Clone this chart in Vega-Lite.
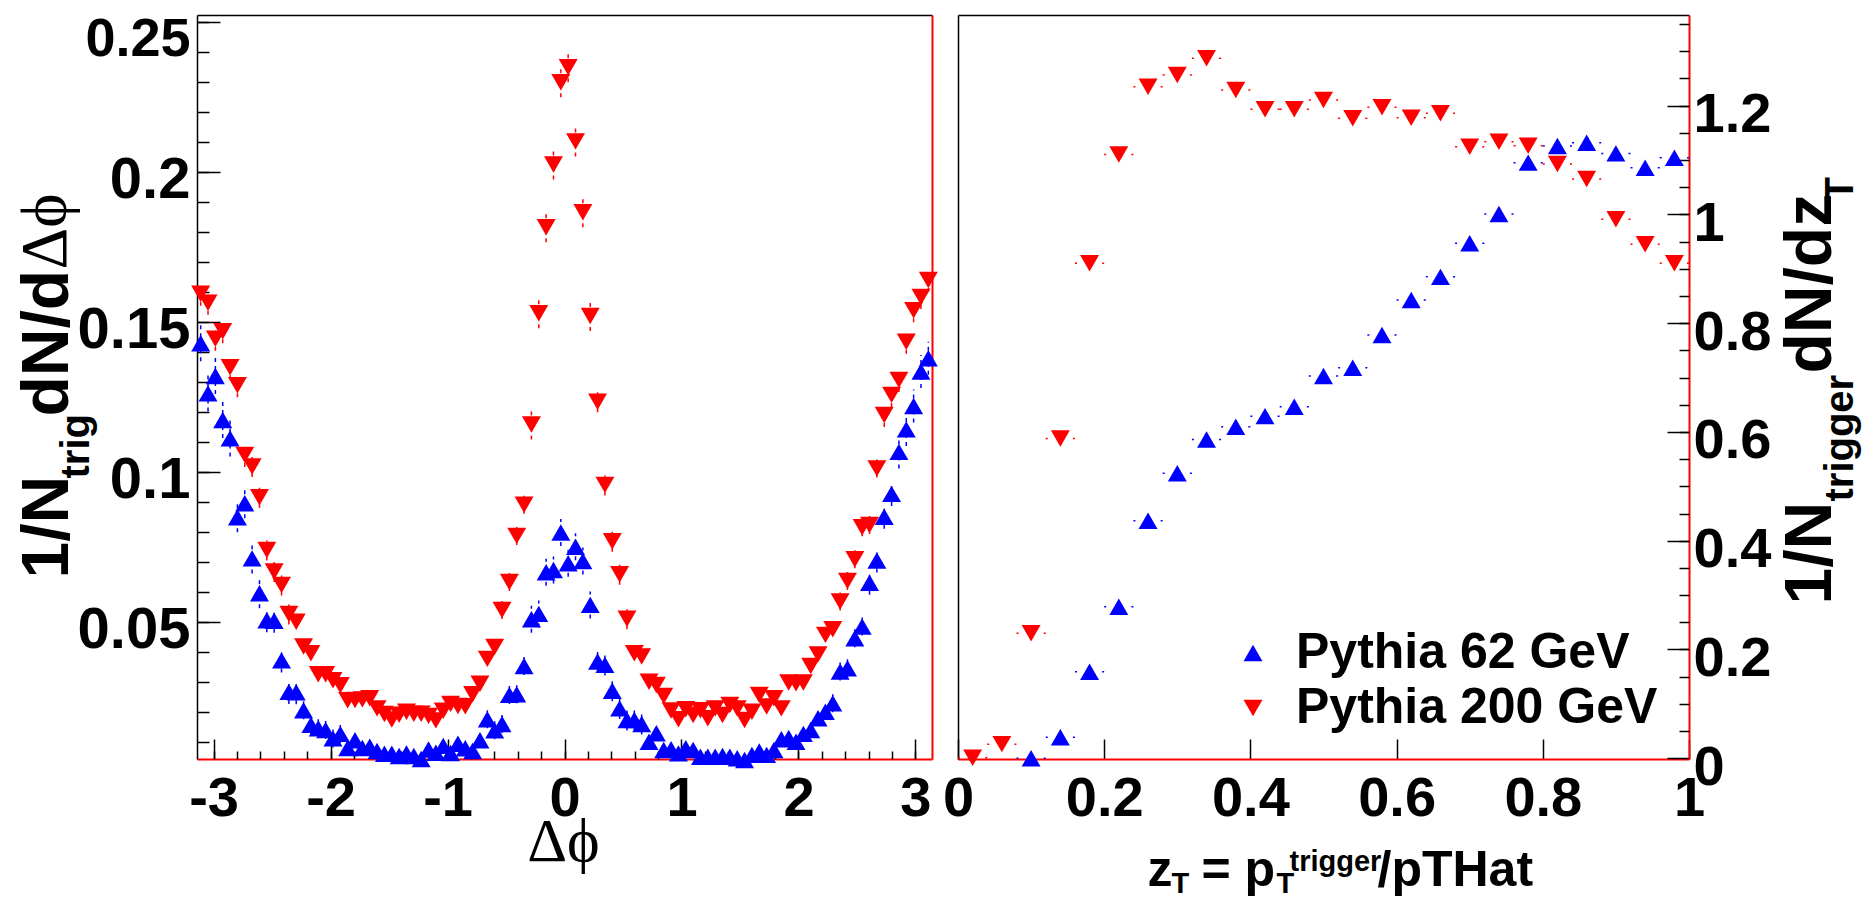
{
"$schema": "https://vega.github.io/schema/vega-lite/v6.json",
"width": 1492,
"height": 744,
"autosize": {"type": "none"},
"padding": {"left": 197, "top": 15, "right": 182, "bottom": 141},
"background": "white",
"config": {
  "view": {"stroke": null},
  "axis": {"grid": false, "labelFont": "Liberation Sans", "labelFontWeight": "bold", "labelColor": "#000", "titleFont": "Liberation Sans", "titleFontWeight": "bold", "titleColor": "#000", "tickColor": "#000", "tickWidth": 1.5, "domainColor": "#000", "domainWidth": 1.5, "titlePadding": 0, "labelOverlap": false, "labelFlush": false}
},
"datasets": {
"left": [
{"phi":-3.1102,"v":0.143,"e":0.006,"series":"Pythia 62 GeV"},
{"phi":-3.0473,"v":0.1263,"e":0.006,"series":"Pythia 62 GeV"},
{"phi":-2.9845,"v":0.1321,"e":0.006,"series":"Pythia 62 GeV"},
{"phi":-2.9217,"v":0.1174,"e":0.006,"series":"Pythia 62 GeV"},
{"phi":-2.8588,"v":0.1113,"e":0.006,"series":"Pythia 62 GeV"},
{"phi":-2.796,"v":0.085,"e":0.005,"series":"Pythia 62 GeV"},
{"phi":-2.7332,"v":0.0897,"e":0.005,"series":"Pythia 62 GeV"},
{"phi":-2.6704,"v":0.0713,"e":0.005,"series":"Pythia 62 GeV"},
{"phi":-2.6075,"v":0.0597,"e":0.005,"series":"Pythia 62 GeV"},
{"phi":-2.5447,"v":0.0507,"e":0.004,"series":"Pythia 62 GeV"},
{"phi":-2.4819,"v":0.0505,"e":0.004,"series":"Pythia 62 GeV"},
{"phi":-2.419,"v":0.0373,"e":0.004,"series":"Pythia 62 GeV"},
{"phi":-2.3562,"v":0.0268,"e":0.004,"series":"Pythia 62 GeV"},
{"phi":-2.2934,"v":0.0267,"e":0.004,"series":"Pythia 62 GeV"},
{"phi":-2.2305,"v":0.0207,"e":0.003,"series":"Pythia 62 GeV"},
{"phi":-2.1677,"v":0.0158,"e":0.003,"series":"Pythia 62 GeV"},
{"phi":-2.1049,"v":0.0147,"e":0.003,"series":"Pythia 62 GeV"},
{"phi":-2.042,"v":0.0141,"e":0.003,"series":"Pythia 62 GeV"},
{"phi":-1.9792,"v":0.0113,"e":0.003,"series":"Pythia 62 GeV"},
{"phi":-1.9164,"v":0.0128,"e":0.003,"series":"Pythia 62 GeV"},
{"phi":-1.8535,"v":0.0081,"e":0.002,"series":"Pythia 62 GeV"},
{"phi":-1.7907,"v":0.0107,"e":0.002,"series":"Pythia 62 GeV"},
{"phi":-1.7279,"v":0.0081,"e":0.002,"series":"Pythia 62 GeV"},
{"phi":-1.665,"v":0.0085,"e":0.002,"series":"Pythia 62 GeV"},
{"phi":-1.6022,"v":0.0071,"e":0.002,"series":"Pythia 62 GeV"},
{"phi":-1.5394,"v":0.0062,"e":0.002,"series":"Pythia 62 GeV"},
{"phi":-1.4765,"v":0.0062,"e":0.002,"series":"Pythia 62 GeV"},
{"phi":-1.4137,"v":0.0054,"e":0.002,"series":"Pythia 62 GeV"},
{"phi":-1.3509,"v":0.0063,"e":0.002,"series":"Pythia 62 GeV"},
{"phi":-1.2881,"v":0.0054,"e":0.002,"series":"Pythia 62 GeV"},
{"phi":-1.2252,"v":0.0044,"e":0.002,"series":"Pythia 62 GeV"},
{"phi":-1.1624,"v":0.0076,"e":0.002,"series":"Pythia 62 GeV"},
{"phi":-1.0996,"v":0.0065,"e":0.002,"series":"Pythia 62 GeV"},
{"phi":-1.0367,"v":0.0088,"e":0.002,"series":"Pythia 62 GeV"},
{"phi":-0.9739,"v":0.0064,"e":0.002,"series":"Pythia 62 GeV"},
{"phi":-0.9111,"v":0.0095,"e":0.002,"series":"Pythia 62 GeV"},
{"phi":-0.8482,"v":0.008,"e":0.002,"series":"Pythia 62 GeV"},
{"phi":-0.7854,"v":0.0071,"e":0.002,"series":"Pythia 62 GeV"},
{"phi":-0.7226,"v":0.0107,"e":0.002,"series":"Pythia 62 GeV"},
{"phi":-0.6597,"v":0.0177,"e":0.003,"series":"Pythia 62 GeV"},
{"phi":-0.5969,"v":0.014,"e":0.003,"series":"Pythia 62 GeV"},
{"phi":-0.5341,"v":0.0161,"e":0.003,"series":"Pythia 62 GeV"},
{"phi":-0.4712,"v":0.0258,"e":0.003,"series":"Pythia 62 GeV"},
{"phi":-0.4084,"v":0.026,"e":0.003,"series":"Pythia 62 GeV"},
{"phi":-0.3456,"v":0.0354,"e":0.003,"series":"Pythia 62 GeV"},
{"phi":-0.2827,"v":0.051,"e":0.0045,"series":"Pythia 62 GeV"},
{"phi":-0.2199,"v":0.0528,"e":0.0045,"series":"Pythia 62 GeV"},
{"phi":-0.1571,"v":0.0667,"e":0.0045,"series":"Pythia 62 GeV"},
{"phi":-0.0942,"v":0.0674,"e":0.0045,"series":"Pythia 62 GeV"},
{"phi":-0.0314,"v":0.0799,"e":0.0045,"series":"Pythia 62 GeV"},
{"phi":0.0314,"v":0.0697,"e":0.0045,"series":"Pythia 62 GeV"},
{"phi":0.0942,"v":0.0752,"e":0.0045,"series":"Pythia 62 GeV"},
{"phi":0.1571,"v":0.0704,"e":0.0045,"series":"Pythia 62 GeV"},
{"phi":0.2199,"v":0.0558,"e":0.0045,"series":"Pythia 62 GeV"},
{"phi":0.2827,"v":0.0369,"e":0.0035,"series":"Pythia 62 GeV"},
{"phi":0.3456,"v":0.0358,"e":0.0035,"series":"Pythia 62 GeV"},
{"phi":0.4084,"v":0.0272,"e":0.0035,"series":"Pythia 62 GeV"},
{"phi":0.4712,"v":0.0213,"e":0.0035,"series":"Pythia 62 GeV"},
{"phi":0.5341,"v":0.0174,"e":0.0035,"series":"Pythia 62 GeV"},
{"phi":0.5969,"v":0.0174,"e":0.0035,"series":"Pythia 62 GeV"},
{"phi":0.6597,"v":0.0161,"e":0.0035,"series":"Pythia 62 GeV"},
{"phi":0.7226,"v":0.0102,"e":0.002,"series":"Pythia 62 GeV"},
{"phi":0.7854,"v":0.013,"e":0.002,"series":"Pythia 62 GeV"},
{"phi":0.8482,"v":0.0074,"e":0.002,"series":"Pythia 62 GeV"},
{"phi":0.9111,"v":0.0077,"e":0.002,"series":"Pythia 62 GeV"},
{"phi":0.9739,"v":0.0063,"e":0.002,"series":"Pythia 62 GeV"},
{"phi":1.0367,"v":0.008,"e":0.002,"series":"Pythia 62 GeV"},
{"phi":1.0996,"v":0.0074,"e":0.002,"series":"Pythia 62 GeV"},
{"phi":1.1624,"v":0.0052,"e":0.002,"series":"Pythia 62 GeV"},
{"phi":1.2252,"v":0.0052,"e":0.002,"series":"Pythia 62 GeV"},
{"phi":1.2881,"v":0.0052,"e":0.002,"series":"Pythia 62 GeV"},
{"phi":1.3509,"v":0.0054,"e":0.002,"series":"Pythia 62 GeV"},
{"phi":1.4137,"v":0.0052,"e":0.002,"series":"Pythia 62 GeV"},
{"phi":1.4765,"v":0.0047,"e":0.002,"series":"Pythia 62 GeV"},
{"phi":1.5394,"v":0.0041,"e":0.002,"series":"Pythia 62 GeV"},
{"phi":1.6022,"v":0.0058,"e":0.002,"series":"Pythia 62 GeV"},
{"phi":1.665,"v":0.0069,"e":0.002,"series":"Pythia 62 GeV"},
{"phi":1.7279,"v":0.0058,"e":0.002,"series":"Pythia 62 GeV"},
{"phi":1.7907,"v":0.0074,"e":0.002,"series":"Pythia 62 GeV"},
{"phi":1.8535,"v":0.011,"e":0.002,"series":"Pythia 62 GeV"},
{"phi":1.9164,"v":0.0114,"e":0.002,"series":"Pythia 62 GeV"},
{"phi":1.9792,"v":0.0102,"e":0.002,"series":"Pythia 62 GeV"},
{"phi":2.042,"v":0.0128,"e":0.002,"series":"Pythia 62 GeV"},
{"phi":2.1049,"v":0.0141,"e":0.002,"series":"Pythia 62 GeV"},
{"phi":2.1677,"v":0.018,"e":0.002,"series":"Pythia 62 GeV"},
{"phi":2.2305,"v":0.0202,"e":0.002,"series":"Pythia 62 GeV"},
{"phi":2.2934,"v":0.023,"e":0.003,"series":"Pythia 62 GeV"},
{"phi":2.3562,"v":0.0336,"e":0.003,"series":"Pythia 62 GeV"},
{"phi":2.419,"v":0.0347,"e":0.003,"series":"Pythia 62 GeV"},
{"phi":2.4819,"v":0.0447,"e":0.003,"series":"Pythia 62 GeV"},
{"phi":2.5447,"v":0.0486,"e":0.003,"series":"Pythia 62 GeV"},
{"phi":2.6075,"v":0.0632,"e":0.004,"series":"Pythia 62 GeV"},
{"phi":2.6704,"v":0.0706,"e":0.004,"series":"Pythia 62 GeV"},
{"phi":2.7332,"v":0.0852,"e":0.004,"series":"Pythia 62 GeV"},
{"phi":2.796,"v":0.0928,"e":0.004,"series":"Pythia 62 GeV"},
{"phi":2.8588,"v":0.1068,"e":0.0055,"series":"Pythia 62 GeV"},
{"phi":2.9217,"v":0.1143,"e":0.0055,"series":"Pythia 62 GeV"},
{"phi":2.9845,"v":0.1221,"e":0.0055,"series":"Pythia 62 GeV"},
{"phi":3.0473,"v":0.1336,"e":0.0055,"series":"Pythia 62 GeV"},
{"phi":3.1102,"v":0.138,"e":0.0055,"series":"Pythia 62 GeV"},
{"phi":-3.1102,"v":0.1595,"e":0.004,"series":"Pythia 200 GeV"},
{"phi":-3.0473,"v":0.1565,"e":0.004,"series":"Pythia 200 GeV"},
{"phi":-2.9845,"v":0.1445,"e":0.004,"series":"Pythia 200 GeV"},
{"phi":-2.9217,"v":0.147,"e":0.004,"series":"Pythia 200 GeV"},
{"phi":-2.8588,"v":0.135,"e":0.004,"series":"Pythia 200 GeV"},
{"phi":-2.796,"v":0.129,"e":0.004,"series":"Pythia 200 GeV"},
{"phi":-2.7332,"v":0.1058,"e":0.004,"series":"Pythia 200 GeV"},
{"phi":-2.6704,"v":0.1019,"e":0.0035,"series":"Pythia 200 GeV"},
{"phi":-2.6075,"v":0.0917,"e":0.0035,"series":"Pythia 200 GeV"},
{"phi":-2.5447,"v":0.0741,"e":0.0035,"series":"Pythia 200 GeV"},
{"phi":-2.4819,"v":0.0669,"e":0.0035,"series":"Pythia 200 GeV"},
{"phi":-2.419,"v":0.0624,"e":0.0035,"series":"Pythia 200 GeV"},
{"phi":-2.3562,"v":0.0528,"e":0.0035,"series":"Pythia 200 GeV"},
{"phi":-2.2934,"v":0.0502,"e":0.002,"series":"Pythia 200 GeV"},
{"phi":-2.2305,"v":0.0419,"e":0.002,"series":"Pythia 200 GeV"},
{"phi":-2.1677,"v":0.0397,"e":0.002,"series":"Pythia 200 GeV"},
{"phi":-2.1049,"v":0.0327,"e":0.002,"series":"Pythia 200 GeV"},
{"phi":-2.042,"v":0.0327,"e":0.002,"series":"Pythia 200 GeV"},
{"phi":-1.9792,"v":0.0307,"e":0.002,"series":"Pythia 200 GeV"},
{"phi":-1.9164,"v":0.029,"e":0.002,"series":"Pythia 200 GeV"},
{"phi":-1.8535,"v":0.024,"e":0.002,"series":"Pythia 200 GeV"},
{"phi":-1.7907,"v":0.0241,"e":0.002,"series":"Pythia 200 GeV"},
{"phi":-1.7279,"v":0.0243,"e":0.002,"series":"Pythia 200 GeV"},
{"phi":-1.665,"v":0.0247,"e":0.002,"series":"Pythia 200 GeV"},
{"phi":-1.6022,"v":0.0213,"e":0.002,"series":"Pythia 200 GeV"},
{"phi":-1.5394,"v":0.0194,"e":0.002,"series":"Pythia 200 GeV"},
{"phi":-1.4765,"v":0.0176,"e":0.002,"series":"Pythia 200 GeV"},
{"phi":-1.4137,"v":0.0192,"e":0.002,"series":"Pythia 200 GeV"},
{"phi":-1.3509,"v":0.0202,"e":0.002,"series":"Pythia 200 GeV"},
{"phi":-1.2881,"v":0.0195,"e":0.002,"series":"Pythia 200 GeV"},
{"phi":-1.2252,"v":0.0195,"e":0.002,"series":"Pythia 200 GeV"},
{"phi":-1.1624,"v":0.0188,"e":0.002,"series":"Pythia 200 GeV"},
{"phi":-1.0996,"v":0.0173,"e":0.002,"series":"Pythia 200 GeV"},
{"phi":-1.0367,"v":0.0205,"e":0.002,"series":"Pythia 200 GeV"},
{"phi":-0.9739,"v":0.0228,"e":0.002,"series":"Pythia 200 GeV"},
{"phi":-0.9111,"v":0.0221,"e":0.002,"series":"Pythia 200 GeV"},
{"phi":-0.8482,"v":0.022,"e":0.002,"series":"Pythia 200 GeV"},
{"phi":-0.7854,"v":0.026,"e":0.002,"series":"Pythia 200 GeV"},
{"phi":-0.7226,"v":0.0295,"e":0.002,"series":"Pythia 200 GeV"},
{"phi":-0.6597,"v":0.0378,"e":0.002,"series":"Pythia 200 GeV"},
{"phi":-0.5969,"v":0.0418,"e":0.002,"series":"Pythia 200 GeV"},
{"phi":-0.5341,"v":0.0541,"e":0.003,"series":"Pythia 200 GeV"},
{"phi":-0.4712,"v":0.0634,"e":0.003,"series":"Pythia 200 GeV"},
{"phi":-0.4084,"v":0.0788,"e":0.003,"series":"Pythia 200 GeV"},
{"phi":-0.3456,"v":0.0892,"e":0.003,"series":"Pythia 200 GeV"},
{"phi":-0.2827,"v":0.1159,"e":0.005,"series":"Pythia 200 GeV"},
{"phi":-0.2199,"v":0.153,"e":0.005,"series":"Pythia 200 GeV"},
{"phi":-0.1571,"v":0.1817,"e":0.005,"series":"Pythia 200 GeV"},
{"phi":-0.0942,"v":0.2026,"e":0.005,"series":"Pythia 200 GeV"},
{"phi":-0.0314,"v":0.23,"e":0.005,"series":"Pythia 200 GeV"},
{"phi":0.0314,"v":0.235,"e":0.005,"series":"Pythia 200 GeV"},
{"phi":0.0942,"v":0.2103,"e":0.005,"series":"Pythia 200 GeV"},
{"phi":0.1571,"v":0.1867,"e":0.005,"series":"Pythia 200 GeV"},
{"phi":0.2199,"v":0.1521,"e":0.005,"series":"Pythia 200 GeV"},
{"phi":0.2827,"v":0.1235,"e":0.0035,"series":"Pythia 200 GeV"},
{"phi":0.3456,"v":0.0958,"e":0.0035,"series":"Pythia 200 GeV"},
{"phi":0.4084,"v":0.077,"e":0.0035,"series":"Pythia 200 GeV"},
{"phi":0.4712,"v":0.066,"e":0.0035,"series":"Pythia 200 GeV"},
{"phi":0.5341,"v":0.0512,"e":0.0035,"series":"Pythia 200 GeV"},
{"phi":0.5969,"v":0.0397,"e":0.002,"series":"Pythia 200 GeV"},
{"phi":0.6597,"v":0.0386,"e":0.002,"series":"Pythia 200 GeV"},
{"phi":0.7226,"v":0.0302,"e":0.002,"series":"Pythia 200 GeV"},
{"phi":0.7854,"v":0.0291,"e":0.002,"series":"Pythia 200 GeV"},
{"phi":0.8482,"v":0.0254,"e":0.002,"series":"Pythia 200 GeV"},
{"phi":0.9111,"v":0.0206,"e":0.002,"series":"Pythia 200 GeV"},
{"phi":0.9739,"v":0.0177,"e":0.002,"series":"Pythia 200 GeV"},
{"phi":1.0367,"v":0.021,"e":0.002,"series":"Pythia 200 GeV"},
{"phi":1.0996,"v":0.0191,"e":0.002,"series":"Pythia 200 GeV"},
{"phi":1.1624,"v":0.0207,"e":0.002,"series":"Pythia 200 GeV"},
{"phi":1.2252,"v":0.018,"e":0.002,"series":"Pythia 200 GeV"},
{"phi":1.2881,"v":0.0213,"e":0.002,"series":"Pythia 200 GeV"},
{"phi":1.3509,"v":0.0191,"e":0.002,"series":"Pythia 200 GeV"},
{"phi":1.4137,"v":0.0224,"e":0.002,"series":"Pythia 200 GeV"},
{"phi":1.4765,"v":0.0213,"e":0.002,"series":"Pythia 200 GeV"},
{"phi":1.5394,"v":0.0174,"e":0.002,"series":"Pythia 200 GeV"},
{"phi":1.6022,"v":0.0202,"e":0.002,"series":"Pythia 200 GeV"},
{"phi":1.665,"v":0.0258,"e":0.002,"series":"Pythia 200 GeV"},
{"phi":1.7279,"v":0.0219,"e":0.002,"series":"Pythia 200 GeV"},
{"phi":1.7907,"v":0.0247,"e":0.002,"series":"Pythia 200 GeV"},
{"phi":1.8535,"v":0.0213,"e":0.002,"series":"Pythia 200 GeV"},
{"phi":1.9164,"v":0.0299,"e":0.002,"series":"Pythia 200 GeV"},
{"phi":1.9792,"v":0.0297,"e":0.002,"series":"Pythia 200 GeV"},
{"phi":2.042,"v":0.0299,"e":0.002,"series":"Pythia 200 GeV"},
{"phi":2.1049,"v":0.0354,"e":0.002,"series":"Pythia 200 GeV"},
{"phi":2.1677,"v":0.0393,"e":0.002,"series":"Pythia 200 GeV"},
{"phi":2.2305,"v":0.0458,"e":0.002,"series":"Pythia 200 GeV"},
{"phi":2.2934,"v":0.0477,"e":0.002,"series":"Pythia 200 GeV"},
{"phi":2.3562,"v":0.0569,"e":0.003,"series":"Pythia 200 GeV"},
{"phi":2.419,"v":0.0638,"e":0.003,"series":"Pythia 200 GeV"},
{"phi":2.4819,"v":0.071,"e":0.003,"series":"Pythia 200 GeV"},
{"phi":2.5447,"v":0.0817,"e":0.003,"series":"Pythia 200 GeV"},
{"phi":2.6075,"v":0.0824,"e":0.003,"series":"Pythia 200 GeV"},
{"phi":2.6704,"v":0.1013,"e":0.003,"series":"Pythia 200 GeV"},
{"phi":2.7332,"v":0.1191,"e":0.004,"series":"Pythia 200 GeV"},
{"phi":2.796,"v":0.1258,"e":0.004,"series":"Pythia 200 GeV"},
{"phi":2.8588,"v":0.1308,"e":0.004,"series":"Pythia 200 GeV"},
{"phi":2.9217,"v":0.1435,"e":0.004,"series":"Pythia 200 GeV"},
{"phi":2.9845,"v":0.154,"e":0.004,"series":"Pythia 200 GeV"},
{"phi":3.0473,"v":0.1584,"e":0.004,"series":"Pythia 200 GeV"},
{"phi":3.1102,"v":0.1641,"e":0.004,"series":"Pythia 200 GeV"}
],
"right": [
{"z":0.10,"v":0.0,"ex":0.02,"series":"Pythia 62 GeV"},
{"z":0.14,"v":0.0386,"ex":0.02,"series":"Pythia 62 GeV"},
{"z":0.18,"v":0.159,"ex":0.02,"series":"Pythia 62 GeV"},
{"z":0.22,"v":0.2787,"ex":0.02,"series":"Pythia 62 GeV"},
{"z":0.26,"v":0.4368,"ex":0.02,"series":"Pythia 62 GeV"},
{"z":0.30,"v":0.5239,"ex":0.02,"series":"Pythia 62 GeV"},
{"z":0.34,"v":0.586,"ex":0.02,"series":"Pythia 62 GeV"},
{"z":0.38,"v":0.6096,"ex":0.02,"series":"Pythia 62 GeV"},
{"z":0.42,"v":0.629,"ex":0.02,"series":"Pythia 62 GeV"},
{"z":0.46,"v":0.6464,"ex":0.02,"series":"Pythia 62 GeV"},
{"z":0.50,"v":0.7028,"ex":0.02,"series":"Pythia 62 GeV"},
{"z":0.54,"v":0.718,"ex":0.02,"series":"Pythia 62 GeV"},
{"z":0.58,"v":0.778,"ex":0.02,"series":"Pythia 62 GeV"},
{"z":0.62,"v":0.8425,"ex":0.02,"series":"Pythia 62 GeV"},
{"z":0.66,"v":0.885,"ex":0.02,"series":"Pythia 62 GeV"},
{"z":0.70,"v":0.9467,"ex":0.02,"series":"Pythia 62 GeV"},
{"z":0.74,"v":1.0006,"ex":0.02,"series":"Pythia 62 GeV"},
{"z":0.78,"v":1.095,"ex":0.02,"series":"Pythia 62 GeV"},
{"z":0.82,"v":1.1256,"ex":0.02,"series":"Pythia 62 GeV"},
{"z":0.86,"v":1.1317,"ex":0.02,"series":"Pythia 62 GeV"},
{"z":0.90,"v":1.112,"ex":0.02,"series":"Pythia 62 GeV"},
{"z":0.94,"v":1.0857,"ex":0.02,"series":"Pythia 62 GeV"},
{"z":0.98,"v":1.104,"ex":0.02,"series":"Pythia 62 GeV"},
{"z":0.02,"v":0.001,"ex":0.02,"series":"Pythia 200 GeV"},
{"z":0.06,"v":0.026,"ex":0.02,"series":"Pythia 200 GeV"},
{"z":0.10,"v":0.2298,"ex":0.02,"series":"Pythia 200 GeV"},
{"z":0.14,"v":0.588,"ex":0.02,"series":"Pythia 200 GeV"},
{"z":0.18,"v":0.91,"ex":0.02,"series":"Pythia 200 GeV"},
{"z":0.22,"v":1.11,"ex":0.02,"series":"Pythia 200 GeV"},
{"z":0.26,"v":1.2346,"ex":0.02,"series":"Pythia 200 GeV"},
{"z":0.30,"v":1.256,"ex":0.02,"series":"Pythia 200 GeV"},
{"z":0.34,"v":1.287,"ex":0.02,"series":"Pythia 200 GeV"},
{"z":0.38,"v":1.2285,"ex":0.02,"series":"Pythia 200 GeV"},
{"z":0.42,"v":1.193,"ex":0.02,"series":"Pythia 200 GeV"},
{"z":0.46,"v":1.193,"ex":0.02,"series":"Pythia 200 GeV"},
{"z":0.50,"v":1.21,"ex":0.02,"series":"Pythia 200 GeV"},
{"z":0.54,"v":1.1765,"ex":0.02,"series":"Pythia 200 GeV"},
{"z":0.58,"v":1.1967,"ex":0.02,"series":"Pythia 200 GeV"},
{"z":0.62,"v":1.1776,"ex":0.02,"series":"Pythia 200 GeV"},
{"z":0.66,"v":1.1857,"ex":0.02,"series":"Pythia 200 GeV"},
{"z":0.70,"v":1.1243,"ex":0.02,"series":"Pythia 200 GeV"},
{"z":0.74,"v":1.1335,"ex":0.02,"series":"Pythia 200 GeV"},
{"z":0.78,"v":1.126,"ex":0.02,"series":"Pythia 200 GeV"},
{"z":0.82,"v":1.0925,"ex":0.02,"series":"Pythia 200 GeV"},
{"z":0.86,"v":1.065,"ex":0.02,"series":"Pythia 200 GeV"},
{"z":0.90,"v":0.991,"ex":0.02,"series":"Pythia 200 GeV"},
{"z":0.94,"v":0.945,"ex":0.02,"series":"Pythia 200 GeV"},
{"z":0.98,"v":0.91,"ex":0.02,"series":"Pythia 200 GeV"}
]
},
"resolve": {"scale": {"x": "independent", "y": "independent", "color": "independent", "shape": "independent"}},
"layer": [
{
  "data": {"name": "left"},
  "mark": {"type": "errorbar", "ticks": false, "rule": {"strokeDash": [4, 4], "strokeWidth": 1.5}},
  "encoding": {
    "x": {"field": "phi", "type": "quantitative", "scale": {"domain": [-3.14159, 3.14159], "range": [0, 735], "nice": false, "zero": false}, "axis": null},
    "y": {"field": "v", "type": "quantitative", "scale": {"domain": [0.00443, 0.25243], "nice": false, "zero": false}, "axis": null},
    "yError": {"field": "e"},
    "color": {"field": "series", "type": "nominal", "scale": {"domain": ["Pythia 62 GeV", "Pythia 200 GeV"], "range": ["#0000ff", "#ff0000"]}, "legend": null}
  }
},
{
  "data": {"name": "left"},
  "mark": {"type": "point", "filled": true, "size": 360, "opacity": 1, "strokeWidth": 0},
  "encoding": {
    "x": {"field": "phi", "type": "quantitative", "scale": {"domain": [-3.14159, 3.14159], "range": [0, 735], "nice": false, "zero": false},
      "axis": {"orient": "bottom", "values": [-3, -2, -1, 0, 1, 2, 3], "tickSize": -20, "labelFontSize": 56, "labelPadding": 32, "labelExpr": "'' + datum.value", "domainColor": "#ff0000", "domainWidth": 2,
        "title": "Δϕ", "titleFont": "Liberation Serif", "titleFontWeight": "normal", "titleFontSize": 62, "titleX": 366, "titleY": 101, "titleAlign": "center", "titleBaseline": "alphabetic", "titleAngle": 0}},
    "y": {"field": "v", "type": "quantitative", "scale": {"domain": [0.00443, 0.25243], "nice": false, "zero": false},
      "axis": {"orient": "left", "values": [0.05, 0.1, 0.15, 0.2, 0.25], "tickSize": -23, "labelFontSize": {"condition": {"test": "datum.value > 0.24", "value": 54}, "value": 58}, "labelPadding": 30, "labelOffset": {"condition": {"test": "datum.value > 0.24", "value": 17}, "value": 8}, "labelExpr": "'' + datum.value",
        "title": "1/N", "titleFontSize": 66, "titleX": -130, "titleY": 563, "titleAngle": 270, "titleAlign": "left", "titleBaseline": "alphabetic"}},
    "color": {"field": "series", "type": "nominal", "scale": {"domain": ["Pythia 62 GeV", "Pythia 200 GeV"], "range": ["#0000ff", "#ff0000"]}, "legend": null},
    "shape": {"field": "series", "type": "nominal", "scale": {"domain": ["Pythia 62 GeV", "Pythia 200 GeV"], "range": ["triangle-up", "triangle-down"]}, "legend": null}
  }
},
{
  "data": {"name": "left"},
  "mark": {"type": "point", "opacity": 0},
  "encoding": {
    "x": {"field": "phi", "type": "quantitative", "scale": {"domain": [-3.14159, 3.14159], "range": [0, 735], "nice": false, "zero": false},
      "axis": {"orient": "bottom", "values": [-3, -2.8, -2.6, -2.4, -2.2, -2, -1.8, -1.6, -1.4, -1.2, -1, -0.8, -0.6, -0.4, -0.2, 0, 0.2, 0.4, 0.6, 0.8, 1, 1.2, 1.4, 1.6, 1.8, 2, 2.2, 2.4, 2.6, 2.8, 3], "tickSize": -8, "labels": false, "domain": false, "title": null}},
    "y": {"field": "v", "type": "quantitative", "scale": {"domain": [0.00443, 0.25243], "nice": false, "zero": false},
      "axis": {"orient": "left", "values": [0.01, 0.02, 0.03, 0.04, 0.05, 0.06, 0.07, 0.08, 0.09, 0.1, 0.11, 0.12, 0.13, 0.14, 0.15, 0.16, 0.17, 0.18, 0.19, 0.2, 0.21, 0.22, 0.23, 0.24, 0.25], "tickSize": -12, "labels": false, "domain": false,
        "title": "trig", "titleFontSize": 40, "titleX": -109, "titleY": 463, "titleAngle": 270, "titleAlign": "left", "titleBaseline": "alphabetic"}}
  }
},
{
  "data": {"name": "left"},
  "mark": {"type": "point", "opacity": 0},
  "encoding": {
    "x": {"field": "phi", "type": "quantitative", "scale": {"domain": [-3.14159, 3.14159], "range": [0, 735], "nice": false, "zero": false},
      "axis": {"orient": "top", "ticks": false, "labels": false, "domainColor": "#000", "domainWidth": 1.5, "title": null}},
    "y": {"field": "v", "type": "quantitative", "scale": {"domain": [0.00443, 0.25243], "nice": false, "zero": false},
      "axis": {"orient": "right", "offset": -757, "ticks": false, "labels": false, "domainColor": "#ff0000", "domainWidth": 2, "title": null}}
  }
},
{
  "data": {"name": "left"},
  "mark": {"type": "point", "opacity": 0},
  "encoding": {
    "x": {"field": "phi", "type": "quantitative", "scale": {"domain": [-3.14159, 3.14159], "range": [0, 735], "nice": false, "zero": false}, "axis": null},
    "y": {"field": "v", "type": "quantitative", "scale": {"domain": [0.00443, 0.25243], "nice": false, "zero": false},
      "axis": {"orient": "left", "ticks": false, "labels": false, "domain": false,
        "title": "dN/d", "titleFontSize": 66, "titleX": -130, "titleY": 401, "titleAngle": 270, "titleAlign": "left", "titleBaseline": "alphabetic"}}
  }
},
{
  "data": {"name": "left"},
  "mark": {"type": "point", "opacity": 0},
  "encoding": {
    "x": {"field": "phi", "type": "quantitative", "scale": {"domain": [-3.14159, 3.14159], "range": [0, 735], "nice": false, "zero": false}, "axis": null},
    "y": {"field": "v", "type": "quantitative", "scale": {"domain": [0.00443, 0.25243], "nice": false, "zero": false},
      "axis": {"orient": "left", "ticks": false, "labels": false, "domain": false,
        "title": "Δϕ", "titleFont": "Liberation Serif", "titleFontWeight": "normal", "titleFontSize": 65, "titleX": -132, "titleY": 254, "titleAngle": 270, "titleAlign": "left", "titleBaseline": "alphabetic"}}
  }
},
{
  "data": {"name": "right"},
  "mark": {"type": "errorbar", "ticks": false, "rule": {"strokeDash": [2, 25.2], "strokeWidth": 1.5}},
  "encoding": {
    "x": {"field": "z", "type": "quantitative", "scale": {"domain": [0, 1], "range": [761, 1492], "nice": false, "zero": false}, "axis": null},
    "xError": {"field": "ex"},
    "y": {"field": "v", "type": "quantitative", "scale": {"domain": [-0.0013, 1.3664], "nice": false, "zero": false}, "axis": null},
    "color": {"field": "series", "type": "nominal", "scale": {"domain": ["Pythia 62 GeV", "Pythia 200 GeV"], "range": ["#0000ff", "#ff0000"]}, "legend": null}
  }
},
{
  "data": {"name": "right"},
  "mark": {"type": "point", "filled": true, "size": 360, "opacity": 1, "strokeWidth": 0},
  "encoding": {
    "x": {"field": "z", "type": "quantitative", "scale": {"domain": [0, 1], "range": [761, 1492], "nice": false, "zero": false},
      "axis": {"orient": "bottom", "values": [0, 0.2, 0.4, 0.6, 0.8, 1], "tickSize": -20, "labelFontSize": 56, "labelPadding": 32, "labelExpr": "'' + datum.value", "domainColor": "#ff0000", "domainWidth": 2,
        "title": "z", "titleFontSize": 50, "titleX": 950, "titleY": 126, "titleAlign": "left", "titleBaseline": "alphabetic", "titleAngle": 0}},
    "y": {"field": "v", "type": "quantitative", "scale": {"domain": [-0.0013, 1.3664], "nice": false, "zero": false},
      "axis": {"orient": "right", "values": [0, 0.2, 0.4, 0.6, 0.8, 1, 1.2], "tickSize": -22, "labelFontSize": 56, "labelPadding": 26, "labelOffset": 9, "labelExpr": "'' + datum.value", "domainColor": "#ff0000", "domainWidth": 2,
        "title": "1/N", "titleFontSize": 66, "titleX": 141, "titleY": 589, "titleAngle": 270, "titleAlign": "left", "titleBaseline": "alphabetic"}},
    "color": {"field": "series", "type": "nominal", "scale": {"domain": ["Pythia 62 GeV", "Pythia 200 GeV"], "range": ["#0000ff", "#ff0000"]},
      "legend": {"orient": "none", "legendX": 1031, "legendY": 613, "offset": 0, "title": null, "padding": 0, "labelFont": "Liberation Sans", "labelFontWeight": "bold", "labelFontSize": 50, "labelColor": "#000", "labelLimit": 800, "symbolSize": 360, "symbolStrokeWidth": 0, "labelOffset": 18, "rowPadding": 5}},
    "shape": {"field": "series", "type": "nominal", "scale": {"domain": ["Pythia 62 GeV", "Pythia 200 GeV"], "range": ["triangle-up", "triangle-down"]},
      "legend": {"orient": "none", "legendX": 1031, "legendY": 613, "offset": 0, "title": null, "padding": 0, "labelFont": "Liberation Sans", "labelFontWeight": "bold", "labelFontSize": 50, "labelColor": "#000", "labelLimit": 800, "symbolSize": 360, "symbolStrokeWidth": 0, "labelOffset": 18, "rowPadding": 5}}
  }
},
{
  "data": {"name": "right"},
  "mark": {"type": "point", "opacity": 0},
  "encoding": {
    "x": {"field": "z", "type": "quantitative", "scale": {"domain": [0, 1], "range": [761, 1492], "nice": false, "zero": false},
      "axis": {"orient": "top", "ticks": false, "labels": false, "domainColor": "#000", "domainWidth": 1.5, "title": null}},
    "y": {"field": "v", "type": "quantitative", "scale": {"domain": [-0.0013, 1.3664], "nice": false, "zero": false},
      "axis": {"orient": "right", "values": [0.05, 0.1, 0.15, 0.2, 0.25, 0.3, 0.35, 0.4, 0.45, 0.5, 0.55, 0.6, 0.65, 0.7, 0.75, 0.8, 0.85, 0.9, 0.95, 1, 1.05, 1.1, 1.15, 1.2, 1.25, 1.3, 1.35], "tickSize": -10, "labels": false, "domain": false,
        "title": "trigger", "titleFontSize": 40, "titleX": 163, "titleY": 486, "titleAngle": 270, "titleAlign": "left", "titleBaseline": "alphabetic"}}
  }
},
{
  "data": {"name": "right"},
  "mark": {"type": "point", "opacity": 0},
  "encoding": {
    "x": {"field": "z", "type": "quantitative", "scale": {"domain": [0, 1], "range": [761, 1492], "nice": false, "zero": false},
      "axis": {"orient": "bottom", "ticks": false, "labels": false, "domain": false, "title": "T", "titleFontSize": 29, "titleX": 974, "titleY": 133, "titleAlign": "left", "titleBaseline": "alphabetic", "titleAngle": 0}},
    "y": {"field": "v", "type": "quantitative", "scale": {"domain": [-0.0013, 1.3664], "nice": false, "zero": false},
      "axis": {"orient": "left", "offset": -761, "ticks": false, "labels": false, "domainColor": "#000", "domainWidth": 1.5, "title": null}}
  }
},
{
  "data": {"name": "right"},
  "mark": {"type": "point", "opacity": 0},
  "encoding": {
    "x": {"field": "z", "type": "quantitative", "scale": {"domain": [0, 1], "range": [761, 1492], "nice": false, "zero": false},
      "axis": {"orient": "bottom", "ticks": false, "labels": false, "domain": false, "title": "= p", "titleFontSize": 50, "titleX": 1004, "titleY": 126, "titleAlign": "left", "titleBaseline": "alphabetic", "titleAngle": 0}},
    "y": {"field": "v", "type": "quantitative", "scale": {"domain": [-0.0013, 1.3664], "nice": false, "zero": false},
      "axis": {"orient": "right", "ticks": false, "labels": false, "domain": false,
        "title": "dN/dz", "titleFontSize": 66, "titleX": 141, "titleY": 358, "titleAngle": 270, "titleAlign": "left", "titleBaseline": "alphabetic"}}
  }
},
{
  "data": {"name": "right"},
  "mark": {"type": "point", "opacity": 0},
  "encoding": {
    "x": {"field": "z", "type": "quantitative", "scale": {"domain": [0, 1], "range": [761, 1492], "nice": false, "zero": false},
      "axis": {"orient": "bottom", "ticks": false, "labels": false, "domain": false, "title": "T", "titleFontSize": 29, "titleX": 1079, "titleY": 133, "titleAlign": "left", "titleBaseline": "alphabetic", "titleAngle": 0}},
    "y": {"field": "v", "type": "quantitative", "scale": {"domain": [-0.0013, 1.3664], "nice": false, "zero": false},
      "axis": {"orient": "right", "ticks": false, "labels": false, "domain": false,
        "title": "T", "titleFontSize": 40, "titleX": 163, "titleY": 186, "titleAngle": 270, "titleAlign": "left", "titleBaseline": "alphabetic"}}
  }
},
{
  "data": {"name": "right"},
  "mark": {"type": "point", "opacity": 0},
  "encoding": {
    "x": {"field": "z", "type": "quantitative", "scale": {"domain": [0, 1], "range": [761, 1492], "nice": false, "zero": false},
      "axis": {"orient": "bottom", "ticks": false, "labels": false, "domain": false, "title": "trigger", "titleFontSize": 29, "titleX": 1092, "titleY": 111, "titleAlign": "left", "titleBaseline": "alphabetic", "titleAngle": 0}},
    "y": {"field": "v", "type": "quantitative", "scale": {"domain": [-0.0013, 1.3664], "nice": false, "zero": false}, "axis": null}
  }
},
{
  "data": {"name": "right"},
  "mark": {"type": "point", "opacity": 0},
  "encoding": {
    "x": {"field": "z", "type": "quantitative", "scale": {"domain": [0, 1], "range": [761, 1492], "nice": false, "zero": false},
      "axis": {"orient": "bottom", "ticks": false, "labels": false, "domain": false, "title": "/pTHat", "titleFontSize": 50, "titleX": 1180, "titleY": 126, "titleAlign": "left", "titleBaseline": "alphabetic", "titleAngle": 0}},
    "y": {"field": "v", "type": "quantitative", "scale": {"domain": [-0.0013, 1.3664], "nice": false, "zero": false}, "axis": null}
  }
}
]
}
